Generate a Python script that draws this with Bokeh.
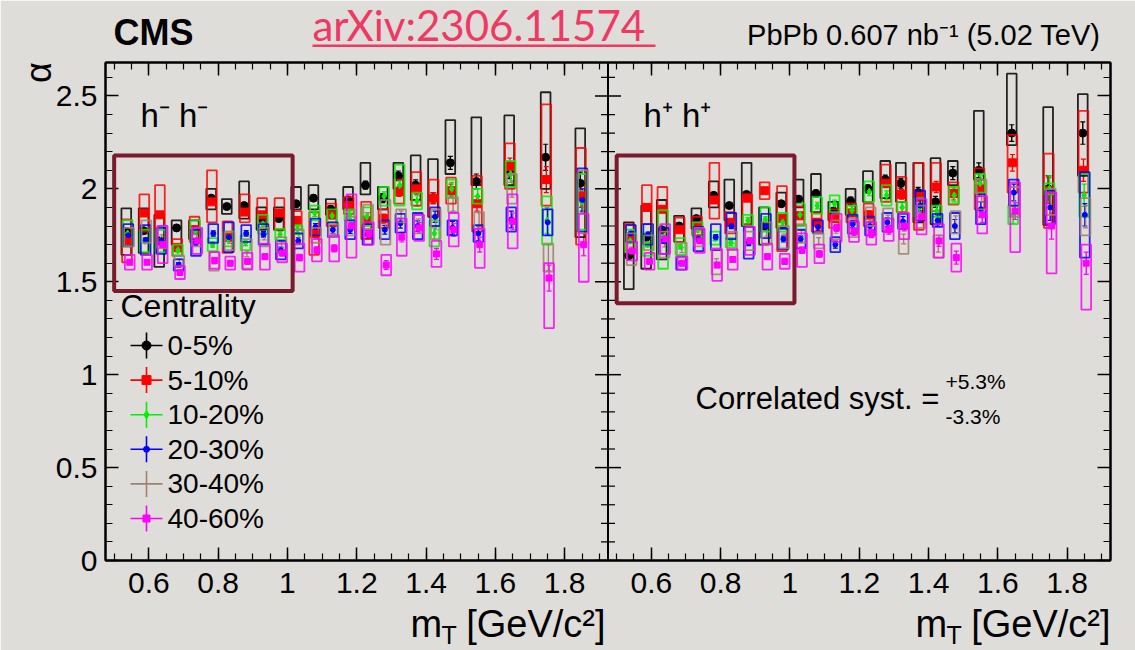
import numpy as np
from bokeh.plotting import figure
from bokeh.models import (Range1d, LinearAxis, FixedTicker, CustomJSTickFormatter, Span, Label,
                          BoxAnnotation, ColumnDataSource, Whisker, TeeHead, GridBox)
from bokeh.core.properties import value
from bokeh.embed import file_html
from bokeh.resources import INLINE

# ---------------- data ----------------
mt_bins = [0.54, 0.59, 0.635, 0.685, 0.735, 0.785, 0.83, 0.88, 0.93, 0.98, 1.03, 1.08,
           1.13, 1.18, 1.23, 1.28, 1.325, 1.375, 1.425, 1.475, 1.55, 1.645, 1.75, 1.85]
centralities = ["0-5%", "5-10%", "10-20%", "20-30%", "30-40%", "40-60%"]
stat_err = [0.012, 0.012, 0.013, 0.013, 0.013, 0.014, 0.014, 0.015, 0.015, 0.016, 0.017, 0.018,
            0.019, 0.02, 0.022, 0.024, 0.026, 0.028, 0.03, 0.035, 0.04, 0.045, 0.07, 0.06]

# h- h- panel
val_hm_0_5 = [1.77, 1.775, 1.72, 1.79, 1.78, 1.95, 1.905, 1.91, 1.84, 1.84, 1.92, 1.95, 1.89, 1.94, 2.02, 1.95, 2.07, 2.02, 1.95, 2.14, 2.04, 2.10, 2.17, 2.03]
up_hm_0_5 = [0.125, 0.12, 0.14, 0.04, 0.05, 0.05, 0.04, 0.13, 0.06, 0.06, 0.09, 0.07, 0.055, 0.07, 0.12, 0.06, 0.07, 0.16, 0.21, 0.23, 0.345, 0.295, 0.35, 0.295]
dn_hm_0_5 = [0.125, 0.12, 0.14, 0.09, 0.05, 0.06, 0.04, 0.07, 0.06, 0.06, 0.03, 0.06, 0.03, 0.05, 0.05, 0.06, 0.07, 0.08, 0.10, 0.06, 0.02, 0.08, 0.17, 0.29]

val_hm_5_10 = [1.72, 1.87, 1.86, 1.685, 1.78, 1.93, 1.74, 1.875, 1.86, 1.87, 1.83, 1.76, 1.86, 1.91, 1.83, 1.84, 1.985, 2.0, 1.95, 1.99, 1.92, 2.12, 2.05, 1.96]
up_hm_5_10 = [0.115, 0.1, 0.16, 0.045, 0.07, 0.17, 0.085, 0.095, 0.09, 0.08, 0.05, 0.115, 0.06, 0.045, 0.1, 0.05, 0.065, 0.09, 0.1, 0.07, 0.15, 0.125, 0.405, 0.26]
dn_hm_5_10 = [0.115, 0.1, 0.15, 0.045, 0.065, 0.11, 0.085, 0.055, 0.04, 0.09, 0.05, 0.115, 0.06, 0.045, 0.1, 0.05, 0.065, 0.09, 0.1, 0.07, 0.15, 0.12, 0.14, 0.26]

val_hm_10_20 = [1.76, 1.72, 1.72, 1.67, 1.77, 1.70, 1.73, 1.71, 1.81, 1.755, 1.78, 1.87, 1.855, 1.86, 1.85, 1.96, 2.02, 1.935, 1.76, 2.0, 1.96, 2.08, 1.83, 1.93]
up_hm_10_20 = [0.07, 0.06, 0.06, 0.03, 0.06, 0.035, 0.04, 0.04, 0.05, 0.03, 0.025, 0.04, 0.035, 0.03, 0.05, 0.05, 0.11, 0.045, 0.07, 0.05, 0.04, 0.07, 0.13, 0.15]
dn_hm_10_20 = up_hm_10_20

val_hm_20_30 = [1.75, 1.725, 1.72, 1.59, 1.71, 1.76, 1.74, 1.76, 1.755, 1.67, 1.72, 1.795, 1.78, 1.78, 1.755, 1.78, 1.815, 1.80, 1.85, 1.79, 1.76, 1.835, 1.82, 1.94]
up_hm_20_30 = [0.06, 0.08, 0.07, 0.03, 0.07, 0.05, 0.08, 0.045, 0.055, 0.05, 0.04, 0.045, 0.04, 0.05, 0.055, 0.05, 0.05, 0.07, 0.05, 0.04, 0.045, 0.065, 0.07, 0.17]
dn_hm_20_30 = up_hm_20_30

val_hm_30_40 = [1.74, 1.77, 1.74, 1.61, 1.74, 1.61, 1.72, 1.65, 1.74, 1.70, 1.74, 1.75, 1.775, 1.80, 1.85, 1.82, 1.855, 1.81, 1.81, 1.915, 1.83, 2.0, 1.63, 1.93]
up_hm_30_40 = [0.05, 0.06, 0.06, 0.03, 0.05, 0.05, 0.05, 0.08, 0.05, 0.04, 0.04, 0.04, 0.035, 0.05, 0.065, 0.12, 0.035, 0.05, 0.08, 0.04, 0.045, 0.08, 0.075, 0.17]
dn_hm_30_40 = up_hm_30_40

val_hm_40_60 = [1.605, 1.605, 1.70, 1.55, 1.72, 1.615, 1.60, 1.61, 1.635, 1.655, 1.63, 1.67, 1.68, 1.80, 1.76, 1.59, 1.74, 1.79, 1.65, 1.78, 1.70, 1.825, 1.52, 1.70]
up_hm_40_60 = [0.04, 0.04, 0.1, 0.035, 0.07, 0.045, 0.035, 0.045, 0.07, 0.05, 0.075, 0.06, 0.07, 0.17, 0.06, 0.055, 0.1, 0.07, 0.07, 0.09, 0.085, 0.145, 0.08, 0.165]
dn_hm_40_60 = [0.04, 0.04, 0.1, 0.035, 0.07, 0.045, 0.035, 0.045, 0.07, 0.05, 0.075, 0.06, 0.07, 0.17, 0.06, 0.055, 0.1, 0.07, 0.07, 0.09, 0.125, 0.145, 0.27, 0.2]

# h+ h+ panel
val_hp_0_5 = [1.64, 1.74, 1.78, 1.80, 1.84, 1.965, 1.91, 1.97, 1.80, 1.92, 1.945, 1.975, 1.88, 1.935, 2.0, 2.05, 2.03, 1.98, 1.93, 2.085, 2.10, 2.30, 2.0, 2.30]
up_hp_0_5 = [0.18, 0.17, 0.16, 0.055, 0.055, 0.075, 0.14, 0.17, 0.10, 0.06, 0.105, 0.105, 0.05, 0.065, 0.095, 0.1, 0.11, 0.16, 0.235, 0.065, 0.32, 0.32, 0.44, 0.21]
dn_hp_0_5 = [0.18, 0.17, 0.16, 0.085, 0.055, 0.065, 0.08, 0.17, 0.10, 0.13, 0.045, 0.1, 0.05, 0.075, 0.07, 0.1, 0.1, 0.16, 0.12, 0.065, 0.05, 0.065, 0.195, 0.23]

val_hp_5_10 = [1.74, 1.90, 1.89, 1.78, 1.80, 1.94, 1.82, 1.95, 1.99, 1.84, 1.855, 1.82, 1.84, 1.87, 1.86, 2.03, 1.97, 1.96, 2.01, 1.975, 2.0, 2.14, 1.99, 2.1]
up_hp_5_10 = [0.07, 0.12, 0.12, 0.065, 0.05, 0.2, 0.055, 0.02, 0.045, 0.175, 0.05, 0.05, 0.05, 0.05, 0.06, 0.1, 0.095, 0.18, 0.13, 0.06, 0.11, 0.15, 0.2, 0.32]
dn_hp_5_10 = [0.07, 0.09, 0.12, 0.065, 0.05, 0.1, 0.06, 0.14, 0.045, 0.175, 0.05, 0.05, 0.05, 0.05, 0.06, 0.1, 0.095, 0.18, 0.13, 0.06, 0.11, 0.16, 0.2, 0.12]

val_hp_10_20 = [1.72, 1.70, 1.74, 1.69, 1.78, 1.735, 1.71, 1.83, 1.835, 1.82, 1.86, 1.91, 1.92, 1.885, 1.985, 1.965, 1.90, 1.90, 1.88, 1.965, 2.03, 1.86, 2.0, 1.965]
up_hp_10_20 = [0.06, 0.06, 0.145, 0.045, 0.04, 0.035, 0.025, 0.03, 0.065, 0.05, 0.06, 0.045, 0.045, 0.025, 0.055, 0.055, 0.03, 0.05, 0.03, 0.045, 0.05, 0.05, 0.03, 0.115]
dn_hp_10_20 = [0.06, 0.06, 0.17, 0.045, 0.04, 0.035, 0.025, 0.03, 0.065, 0.05, 0.06, 0.045, 0.045, 0.025, 0.055, 0.055, 0.03, 0.05, 0.03, 0.045, 0.05, 0.05, 0.03, 0.115]

val_hp_20_30 = [1.76, 1.755, 1.72, 1.60, 1.73, 1.74, 1.80, 1.71, 1.80, 1.73, 1.73, 1.795, 1.70, 1.81, 1.80, 1.82, 1.825, 1.91, 1.83, 1.80, 1.89, 1.98, 1.90, 1.86]
up_hp_20_30 = [0.045, 0.055, 0.07, 0.035, 0.065, 0.07, 0.07, 0.085, 0.065, 0.055, 0.05, 0.035, 0.04, 0.05, 0.05, 0.05, 0.04, 0.08, 0.035, 0.07, 0.08, 0.07, 0.09, 0.23]
dn_hp_20_30 = up_hp_20_30

val_hp_30_40 = [1.675, 1.71, 1.70, 1.67, 1.74, 1.61, 1.72, 1.72, 1.76, 1.74, 1.76, 1.72, 1.78, 1.79, 1.85, 1.835, 1.73, 1.85, 1.69, 1.82, 1.97, 1.93, 1.93, 1.85]
up_hp_30_40 = [0.085, 0.04, 0.07, 0.04, 0.05, 0.07, 0.05, 0.05, 0.06, 0.06, 0.05, 0.04, 0.05, 0.05, 0.05, 0.06, 0.08, 0.06, 0.06, 0.06, 0.08, 0.08, 0.07, 0.1]
dn_hp_30_40 = up_hp_30_40

val_hp_40_60 = [1.665, 1.61, 1.73, 1.60, 1.72, 1.59, 1.62, 1.72, 1.635, 1.61, 1.67, 1.65, 1.79, 1.77, 1.76, 1.78, 1.80, 1.85, 1.72, 1.63, 1.86, 1.88, 1.80, 1.60]
up_hp_40_60 = [0.05, 0.045, 0.08, 0.035, 0.065, 0.085, 0.055, 0.075, 0.07, 0.04, 0.09, 0.05, 0.075, 0.055, 0.06, 0.06, 0.07, 0.095, 0.09, 0.075, 0.1, 0.155, 0.18, 0.10]
dn_hp_40_60 = [0.05, 0.045, 0.08, 0.035, 0.065, 0.085, 0.055, 0.075, 0.07, 0.04, 0.09, 0.05, 0.075, 0.055, 0.06, 0.06, 0.07, 0.095, 0.09, 0.075, 0.1, 0.22, 0.255, 0.25]

highlight_hm = [0.5, 1.015, 1.45, 2.18]   # left, right, bottom, top
highlight_hp = [0.5, 1.013, 1.385, 2.18]

x_major = [0.6, 0.8, 1.0, 1.2, 1.4, 1.6, 1.8]
y_major = [0.0, 0.5, 1.0, 1.5, 2.0, 2.5]

# ---------------- style / layout ----------------
X_LO, X_HI = 0.475, 1.925
SHIFT = X_HI - X_LO          # right panel drawn shifted by one panel width
Y_LO, Y_HI = 0.0, 2.68
W, H = 1135, 650
ML, MR, MT, MB = 105, 25, 62, 90
FW, FH = W - ML - MR, H - MT - MB
BG = "#dfddd9"
FONT = "Liberation Sans"

colors = ["#000000", "#ff0000", "#00ee00", "#0000ff", "#a08070", "#ff00ff"]
markers = ["circle", "square", "diamond", "circle", None, "square"]
msizes = [8, 8, 7, 5, 0, 6]
offsets = [-0.005, -0.003, -0.001, 0.001, 0.003, 0.005]
BOX_W = 0.028

p = figure(width=W, height=H, output_backend="svg", toolbar_location=None,
           x_range=Range1d(X_LO, X_HI + SHIFT), y_range=Range1d(Y_LO, Y_HI),
           min_border_left=ML, min_border_right=MR, min_border_top=MT, min_border_bottom=MB,
           background_fill_color=BG, border_fill_color=BG)
p.xgrid.visible = False
p.ygrid.visible = False
p.outline_line_color = "black"
p.outline_line_width = 2

# frame-pixel ranges for the legend keys
p.extra_x_ranges["fx"] = Range1d(0, FW)
p.extra_y_ranges["fy"] = Range1d(0, FH)

x_ticks = x_major + [t + SHIFT for t in x_major]
x_minor_base = list(np.round(np.arange(0.5, 1.925, 0.05), 3))
x_minor = x_minor_base + [t + SHIFT for t in x_minor_base]
y_minor = list(np.round(np.arange(0.0, 2.68, 0.1), 3))
xticker = FixedTicker(ticks=x_ticks, minor_ticks=x_minor)
yticker = FixedTicker(ticks=y_major, minor_ticks=y_minor)

fmt = CustomJSTickFormatter(code="""
let v = tick > %f ? tick - %f : tick;
v = Math.round(v * 100) / 100;
return String(v);
""" % (X_HI, SHIFT))

def style_axis(ax, labels=True, size="30px"):
    ax.axis_line_width = 2
    ax.major_tick_in = 13
    ax.major_tick_out = 0
    ax.minor_tick_in = 7
    ax.minor_tick_out = 0
    ax.major_tick_line_width = 1.5
    ax.minor_tick_line_width = 1.2
    ax.major_label_text_font = FONT
    if labels:
        ax.major_label_text_font_size = size
        ax.major_label_text_color = "black"
    else:
        ax.major_label_text_font_size = "1px"
        ax.major_label_text_color = None
        ax.major_label_standoff = 0

p.xaxis.ticker = xticker
p.xaxis.formatter = fmt
style_axis(p.xaxis[0], True, "30px")
p.xaxis.major_label_standoff = 12
p.yaxis.ticker = yticker
style_axis(p.yaxis[0], True, "30px")
p.yaxis.major_label_standoff = 8

top_ax = LinearAxis(ticker=xticker)
style_axis(top_ax, False)
p.add_layout(top_ax, "above")
right_ax = LinearAxis(ticker=yticker)
style_axis(right_ax, False)
p.add_layout(right_ax, "right")

# divider between panels with ticks on both sides
p.add_layout(Span(location=X_HI, dimension="height", line_color="black", line_width=2))
p.scatter(x=[X_HI] * len(y_major), y=y_major, marker="dash", size=26, line_color="black", line_width=1.5)
y_minor_only = [v for v in y_minor if all(abs(v - m) > 1e-6 for m in y_major)]
p.scatter(x=[X_HI] * len(y_minor_only), y=y_minor_only, marker="dash", size=14, line_color="black", line_width=1.2)

# ---------------- data marks ----------------
series_hm = [(val_hm_0_5, up_hm_0_5, dn_hm_0_5), (val_hm_5_10, up_hm_5_10, dn_hm_5_10),
             (val_hm_10_20, up_hm_10_20, dn_hm_10_20), (val_hm_20_30, up_hm_20_30, dn_hm_20_30),
             (val_hm_30_40, up_hm_30_40, dn_hm_30_40), (val_hm_40_60, up_hm_40_60, dn_hm_40_60)]
series_hp = [(val_hp_0_5, up_hp_0_5, dn_hp_0_5), (val_hp_5_10, up_hp_5_10, dn_hp_5_10),
             (val_hp_10_20, up_hp_10_20, dn_hp_10_20), (val_hp_20_30, up_hp_20_30, dn_hp_20_30),
             (val_hp_30_40, up_hp_30_40, dn_hp_30_40), (val_hp_40_60, up_hp_40_60, dn_hp_40_60)]

mt = np.array(mt_bins)
st = np.array(stat_err)
for shift, series in [(0.0, series_hm), (SHIFT, series_hp)]:
    for k, (val, up, dn) in enumerate(series):
        x = mt + offsets[k] + shift
        v = np.array(val)
        src = ColumnDataSource(dict(x=x, y=v, left=x - BOX_W / 2, right=x + BOX_W / 2,
                                    top=v + np.array(up), bottom=v - np.array(dn),
                                    lo=v - st, hi=v + st))
        c = colors[k]
        p.quad(left="left", right="right", top="top", bottom="bottom", source=src,
               fill_color=None, line_color=c, line_width=1.8, line_alpha=0.85)
        p.add_layout(Whisker(source=src, base="x", upper="hi", lower="lo", dimension="height",
                             line_color=c, line_width=1.4,
                             upper_head=TeeHead(size=5, line_color=c, line_width=1.2),
                             lower_head=TeeHead(size=5, line_color=c, line_width=1.2)))
        if markers[k]:
            p.scatter("x", "y", source=src, marker=markers[k], size=msizes[k],
                      fill_color=c, line_color=c)

# highlight frames
for shift, hb in [(0.0, highlight_hm), (SHIFT, highlight_hp)]:
    p.add_layout(BoxAnnotation(left=hb[0] + shift, right=hb[1] + shift, bottom=hb[2], top=hb[3],
                               fill_color=None, fill_alpha=0, line_color="#7a1a2c",
                               line_alpha=1, line_width=4))

# ---------------- legend (drawn in frame pixels) ----------------
LEG_X = 41
LEG_Y0 = 215
LEG_DY = 34.6
ky = [LEG_Y0 - i * LEG_DY for i in range(len(centralities))]
for i in range(len(centralities)):
    c = colors[i]
    p.segment(x0=[LEG_X - 16], x1=[LEG_X + 16], y0=[ky[i]], y1=[ky[i]], line_color=c, line_width=1.6,
              x_range_name="fx", y_range_name="fy")
    p.segment(x0=[LEG_X], x1=[LEG_X], y0=[ky[i] - 13], y1=[ky[i] + 13], line_color=c, line_width=1.6,
              x_range_name="fx", y_range_name="fy")
    if markers[i]:
        p.scatter(x=[LEG_X], y=[ky[i]], marker=markers[i], size=msizes[i] + 1, fill_color=c, line_color=c,
                  x_range_name="fx", y_range_name="fy")
p.text(x=[LEG_X + 21] * len(centralities), y=ky, text=centralities, text_baseline="middle",
       text_font=value(FONT), text_font_size="28px", text_color="black",
       x_range_name="fx", y_range_name="fy")

def lab(text, x, y, size, **kw):
    p.add_layout(Label(x=x, y=y, x_units="screen", y_units="screen", text=text,
                       text_font=kw.pop("font", FONT), text_font_size=size,
                       text_color=kw.pop("color", "black"), **kw))

lab("Centrality", 15, 255, "32px", text_baseline="middle")
lab("h\u207b h\u207b", 35, 427, "33px")
lab("h\u207a h\u207a", 538, 427, "33px")
lab("Correlated syst. =", 590, 145, "31px")
lab("+5.3%", 840, 168, "21px")
lab("-3.3%", 840, 133, "21px")

# ---------------- texts outside the frame: transparent overlay in canvas pixels ----------------
ov = figure(width=W, height=H, output_backend="svg", toolbar_location=None, title=None,
            x_axis_type=None, y_axis_type=None, min_border=0,
            x_range=Range1d(0, W), y_range=Range1d(0, H),
            background_fill_color=None, border_fill_color=None, outline_line_color=None)
for fig in (p, ov):
    if "frame_align" in fig.properties():
        fig.frame_align = False

def otext(text, x, y, size, font=FONT, color="black", **kw):
    # y is the canvas position (from top) of the text box bottom
    ov.text(x=[x], y=[H - y], text=[text], text_font=value(font), text_font_size=size,
            text_color=color, **kw)

otext("CMS", 113, 52, "36px", text_font_style="bold")
otext("arXiv:2306.11574", 312, 49, "42px", font="Lato", color="#ee3a62")
ov.quad(left=[312], right=[655], top=[H - 44], bottom=[H - 46.5], fill_color="#ee3a62", line_color=None)
otext("PbPb 0.607 nb\u207b\u00b9 (5.02 TeV)", 1100, 50, "29px", text_align="right")
otext("\u03b1", 38, 72, "36px", angle=np.pi / 2, text_align="center", text_baseline="middle")
for dx in (0, 505):
    otext("m", 410 + dx, 644, "38px")
    otext("T", 441 + dx, 648, "25px")
    otext("[GeV/c\u00b2]", 605 + dx, 644, "38px", text_align="right")

layout = GridBox(children=[(p, 0, 0), (ov, 0, 0)])
open("out.html", "w").write(file_html(layout, INLINE))
